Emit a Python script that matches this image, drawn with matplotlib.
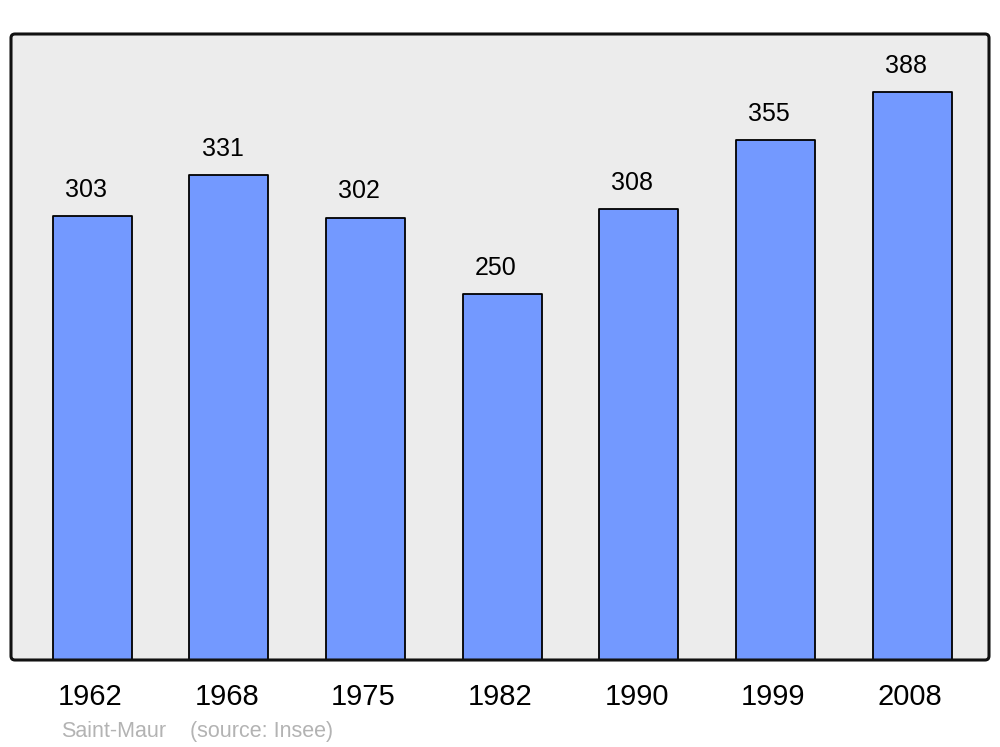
import matplotlib
matplotlib.use("Agg")
import matplotlib.pyplot as plt
from matplotlib.patches import FancyBboxPatch
from matplotlib.transforms import IdentityTransform

years = ["1962", "1968", "1975", "1982", "1990", "1999", "2008"]
population = [303, 331, 302, 250, 308, 355, 388]
source_place = "Saint-Maur"
source_note = "(source: Insee)"

plt.rcParams['font.family'] = ['Liberation Sans', 'DejaVu Sans']

W, H = 1000, 747
fig = plt.figure(figsize=(W / 100, H / 100), dpi=100)
fig.patch.set_facecolor('white')

left, right, top, bottom = 11, 989, 34, 660
ax = fig.add_axes([left / W, (H - bottom) / H, (right - left) / W, (bottom - top) / H])
ax.patch.set_visible(False)
for s in ax.spines.values():
    s.set_visible(False)

# frame background and border (pixel coordinates)
bg = FancyBboxPatch((left, H - bottom), right - left, bottom - top,
                    boxstyle="round,pad=0,rounding_size=4",
                    facecolor='#ececec', edgecolor='none',
                    transform=IdentityTransform(), zorder=-2)
fig.add_artist(bg)
border = FancyBboxPatch((left, H - bottom), right - left, bottom - top,
                        boxstyle="round,pad=0,rounding_size=4",
                        facecolor='none', edgecolor='#111111', linewidth=2.2,
                        transform=IdentityTransform(), zorder=5)
fig.add_artist(border)

x = list(range(len(years)))
bars = ax.bar(x, population, width=0.578, color='#7399ff', edgecolor='black',
              linewidth=1.3, joinstyle='round', zorder=2)

ax.set_xlim(-0.593, len(years) - 1 + 0.563)
ax.set_ylim(0, 427.6)
ax.set_xticks([])
ax.set_yticks([])

for xi, v in zip(x, population):
    ax.annotate(str(v), (xi, v), xytext=(-4.5, 14), textcoords='offset points',
                ha='center', va='baseline', fontsize=18, color='black')

for xi, yr in zip(x, years):
    ax.annotate(yr, (xi, 0), xycoords=('data', 'axes fraction'),
                xytext=(-1.5, -32.5), textcoords='offset points',
                ha='center', va='baseline', fontsize=21, color='black')

fig.text(61 / W, 1 - 737 / H, source_place, ha='left', va='baseline',
         fontsize=15.5, color='#b3b3b3')
fig.text(190 / W, 1 - 737 / H, source_note, ha='left', va='baseline',
         fontsize=15.5, color='#b3b3b3')

fig.savefig("out.png", dpi=100)
